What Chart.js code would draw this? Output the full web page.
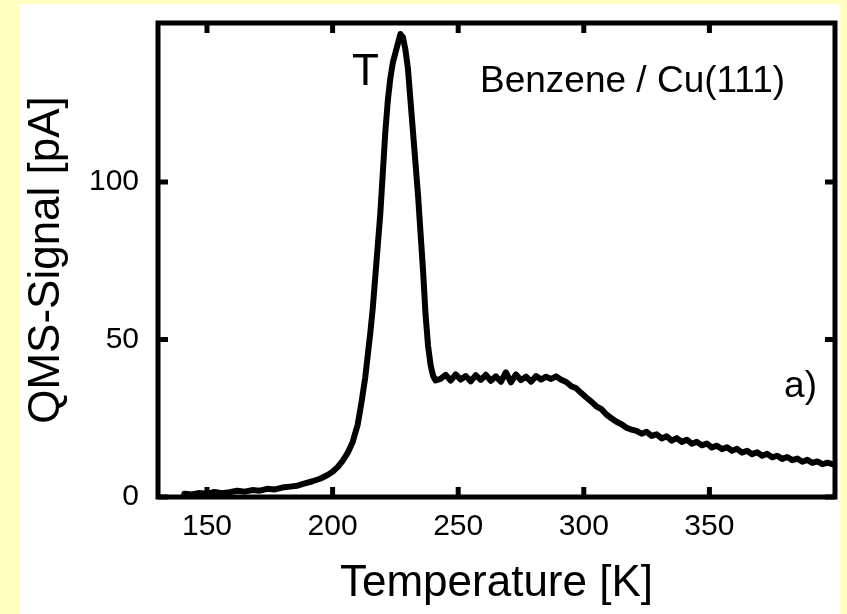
<!DOCTYPE html>
<html>
<head>
<meta charset="utf-8">
<script src="https://cdn.jsdelivr.net/npm/chart.js@4/dist/chart.umd.min.js"></script>
<style>
  html, body { margin: 0; padding: 0; }
  body { width: 847px; height: 614px; background: #ffffbf; position: relative; overflow: hidden; }
  #panel { position: absolute; left: 20px; top: 4px; width: 820px; height: 610px; background: #fff; }
</style>
</head>
<body>
<div id="panel"><canvas id="tpd"></canvas></div>
<script>
// TPD trace: temperature [K] and QMS signal [pA]
const temps = [
  141, 144, 147, 150, 153, 156, 159, 162, 165, 168, 171, 174, 177, 180, 183, 186, 189, 192, 195, 198,
  200, 202, 204, 206, 208, 210, 211.5, 213, 214, 215, 216, 217, 218, 219, 220, 221, 222, 223, 224, 225,
  226, 227, 228, 229, 230, 231, 232, 233, 234, 235, 236, 237, 238, 239, 240, 241,
  243, 245, 247, 249, 251, 253, 255, 257, 259, 261, 263, 265, 267, 269, 271, 273, 275, 277, 279,
  281, 283, 285, 287, 289, 291, 293, 295, 297, 299, 301, 303, 305, 307, 309, 311, 313, 315, 317, 319,
  321, 323, 325, 327, 329, 331, 333, 335, 337, 339, 341, 343, 345, 347, 349, 351, 353, 355, 357, 359,
  361, 363, 365, 367, 369, 371, 373, 375, 377, 379, 381, 383, 385, 387, 389, 391, 393, 395, 397, 399.5
];
const signal = [
  1.0, 0.8, 1.3, 1.0, 1.6, 1.2, 1.5, 2.0, 1.7, 2.2, 2.0, 2.6, 2.4, 3.0, 3.3, 3.6, 4.3, 5.0, 5.8, 7.0,
  8.0, 9.5, 11.5, 14, 17.5, 23, 30, 38, 45, 52, 60, 70, 80, 90, 103, 116, 126, 133, 138, 141,
  144, 147, 146, 142, 136, 126, 116, 106, 96, 84, 72, 58, 48, 42, 38.5, 37,
  37.5, 38.8, 37.0, 38.9, 37.3, 38.4, 36.7, 38.7, 37.2, 38.8, 36.9, 38.3, 36.6, 39.6, 36.4, 38.9, 37.1, 38.2, 36.6,
  38.4, 37.3, 38.2, 37.5, 38.3, 37.2, 36.5, 35.2, 34.5, 33.0, 31.6, 30.3, 28.8, 27.9, 26.2, 25.0, 23.9, 23.1, 22.0, 21.4,
  21.0, 20.1, 20.7, 19.4, 19.9, 18.6, 19.3, 17.9, 18.7, 17.5, 18.2, 16.9, 17.5, 16.4, 17.0, 15.7, 16.3, 15.2, 15.8, 14.7,
  15.3, 14.1, 14.7, 13.6, 14.2, 13.1, 13.7, 12.6, 13.1, 12.1, 12.7, 11.7, 12.2, 11.2, 11.8, 10.8, 11.3, 10.4, 10.9, 10.3
];
const xTicks = [150, 200, 250, 300, 350];
const yTicks = [0, 50, 100];

const FONT = "'Liberation Sans', Arial, sans-serif";

// closed frame with inward tick marks on all four sides, plus the plot labels
const framePlugin = {
  id: 'frame',
  afterDraw(chart) {
    const {ctx, chartArea: a, scales: {x, y}} = chart;
    const tl = 10;
    ctx.save();
    ctx.strokeStyle = '#000';
    ctx.lineWidth = 5;
    ctx.lineCap = 'butt';
    ctx.beginPath();
    xTicks.forEach(v => {
      const px = x.getPixelForValue(v);
      ctx.moveTo(px, a.bottom); ctx.lineTo(px, a.bottom - tl);
      ctx.moveTo(px, a.top); ctx.lineTo(px, a.top + tl);
    });
    yTicks.forEach(v => {
      const py = y.getPixelForValue(v);
      ctx.moveTo(a.left, py); ctx.lineTo(a.left + tl, py);
      ctx.moveTo(a.right, py); ctx.lineTo(a.right - tl, py);
    });
    ctx.stroke();
    ctx.lineJoin = 'miter';
    ctx.strokeRect(a.left, a.top, a.right - a.left, a.bottom - a.top);

    ctx.fillStyle = '#000';
    ctx.textBaseline = 'alphabetic';
    ctx.textAlign = 'left';
    ctx.font = '44px ' + FONT;
    ctx.fillText('T', a.left + 194, a.top + 62);
    ctx.font = '37px ' + FONT;
    ctx.fillText('Benzene / Cu(111)', a.left + 322, a.top + 69);
    ctx.textAlign = 'right';
    ctx.fillText('a)', a.right - 18, a.top + 374);
    ctx.restore();
  }
};

new Chart(document.getElementById('tpd'), {
  type: 'line',
  data: {
    datasets: [{
      data: temps.map((t, i) => ({x: t, y: signal[i]})),
      borderColor: '#000',
      borderWidth: 6,
      borderJoinStyle: 'round',
      borderCapStyle: 'round',
      pointRadius: 0,
      tension: 0,
      fill: false
    }]
  },
  options: {
    responsive: true,
    maintainAspectRatio: false,
    animation: false,
    events: [],
    layout: { padding: { top: 19, right: 5, left: 0, bottom: 0 } },
    plugins: { legend: { display: false }, tooltip: { enabled: false } },
    scales: {
      x: {
        type: 'linear',
        min: 130.5,
        max: 400,
        afterBuildTicks: s => { s.ticks = xTicks.map(v => ({value: v})); },
        afterFit: s => { s.height = 117; s.paddingLeft = 0; s.paddingRight = 0; },
        grid: { display: false, drawTicks: false },
        border: { display: false },
        ticks: { color: '#000', padding: 12, font: { family: FONT, size: 30 } },
        title: { display: true, text: 'Temperature [K]', color: '#000',
                 font: { family: FONT, size: 44 }, padding: { top: 0, bottom: 4 } }
      },
      y: {
        type: 'linear',
        min: 0,
        max: 150.5,
        afterBuildTicks: s => { s.ticks = yTicks.map(v => ({value: v})); },
        afterFit: s => { s.width = 138; s.paddingTop = 0; s.paddingBottom = 0; },
        grid: { display: false, drawTicks: false },
        border: { display: false },
        ticks: { color: '#000', padding: 19, font: { family: FONT, size: 30 } },
        title: { display: true, text: 'QMS-Signal [pA]', color: '#000',
                 font: { family: FONT, size: 44 }, padding: { top: 0, bottom: 0 } }
      }
    }
  },
  plugins: [framePlugin]
});
</script>
</body>
</html>
